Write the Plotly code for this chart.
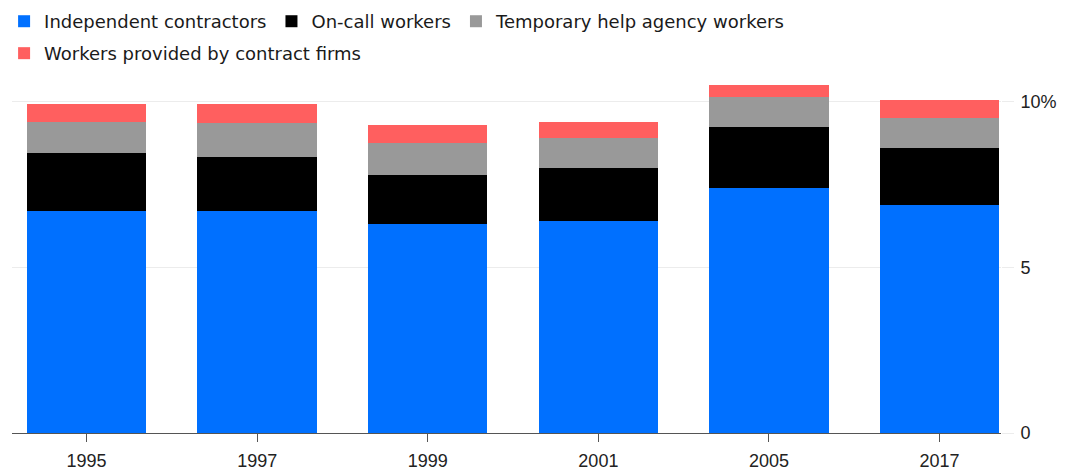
import plotly.graph_objects as go

years = ["1995", "1997", "1999", "2001", "2005", "2017"]
independent = [6.7, 6.7, 6.3, 6.4, 7.4, 6.9]
on_call = [1.75, 1.65, 1.5, 1.6, 1.85, 1.7]
temp_help = [0.95, 1.0, 0.95, 0.9, 0.9, 0.9]
contract_firms = [0.55, 0.6, 0.55, 0.5, 0.35, 0.55]

series = [
    ("Independent contractors", independent, "#0070ff", "legend"),
    ("On-call workers", on_call, "#000000", "legend"),
    ("Temporary help agency workers", temp_help, "#999999", "legend"),
    ("Workers provided by contract firms", contract_firms, "#ff5f5f", "legend2"),
]

fig = go.Figure()
for name, vals, color, leg in series:
    fig.add_trace(go.Bar(x=years, y=vals, name=name, legend=leg,
                         marker=dict(color=color, line=dict(width=0))))

legfont = dict(family="DejaVu Sans, Verdana, sans-serif", size=18, color="#1a1a1a")
fig.update_layout(
    barmode="stack",
    bargap=0.3,
    width=1065, height=474,
    margin=dict(l=4, r=72, t=74, b=49, autoexpand=False),
    paper_bgcolor="white", plot_bgcolor="white",
    font=dict(family="Liberation Sans, Arial, sans-serif", size=17, color="#222"),
    legend=dict(orientation="h", x=-0.008, xanchor="left", y=1.225, yanchor="top",
                font=legfont, traceorder="normal", bgcolor="rgba(0,0,0,0)"),
    legend2=dict(orientation="h", x=-0.008, xanchor="left", y=1.134, yanchor="top",
                 font=legfont, traceorder="normal", bgcolor="rgba(0,0,0,0)"),
    showlegend=True,
)

fig.update_xaxes(
    range=[-0.437, 5.36],
    showgrid=False, showline=True, linecolor="#555", linewidth=1,
    ticks="outside", ticklen=8, tickcolor="#555", tickwidth=1,
    ticklabelstandoff=3,
    tickfont=dict(size=18, color="#222"),
)
fig.update_yaxes(
    range=[0, 10.6], side="right",
    tickvals=[0, 5, 10], ticktext=["0", "5", "10%"],
    showgrid=True, gridcolor="#ececec", gridwidth=1,
    zeroline=False, showline=False,
    ticks="outside", ticklen=12, tickcolor="#ececec",
    ticklabelstandoff=3,
    tickfont=dict(size=18, color="#222"),
)

fig.write_html("out.html")
